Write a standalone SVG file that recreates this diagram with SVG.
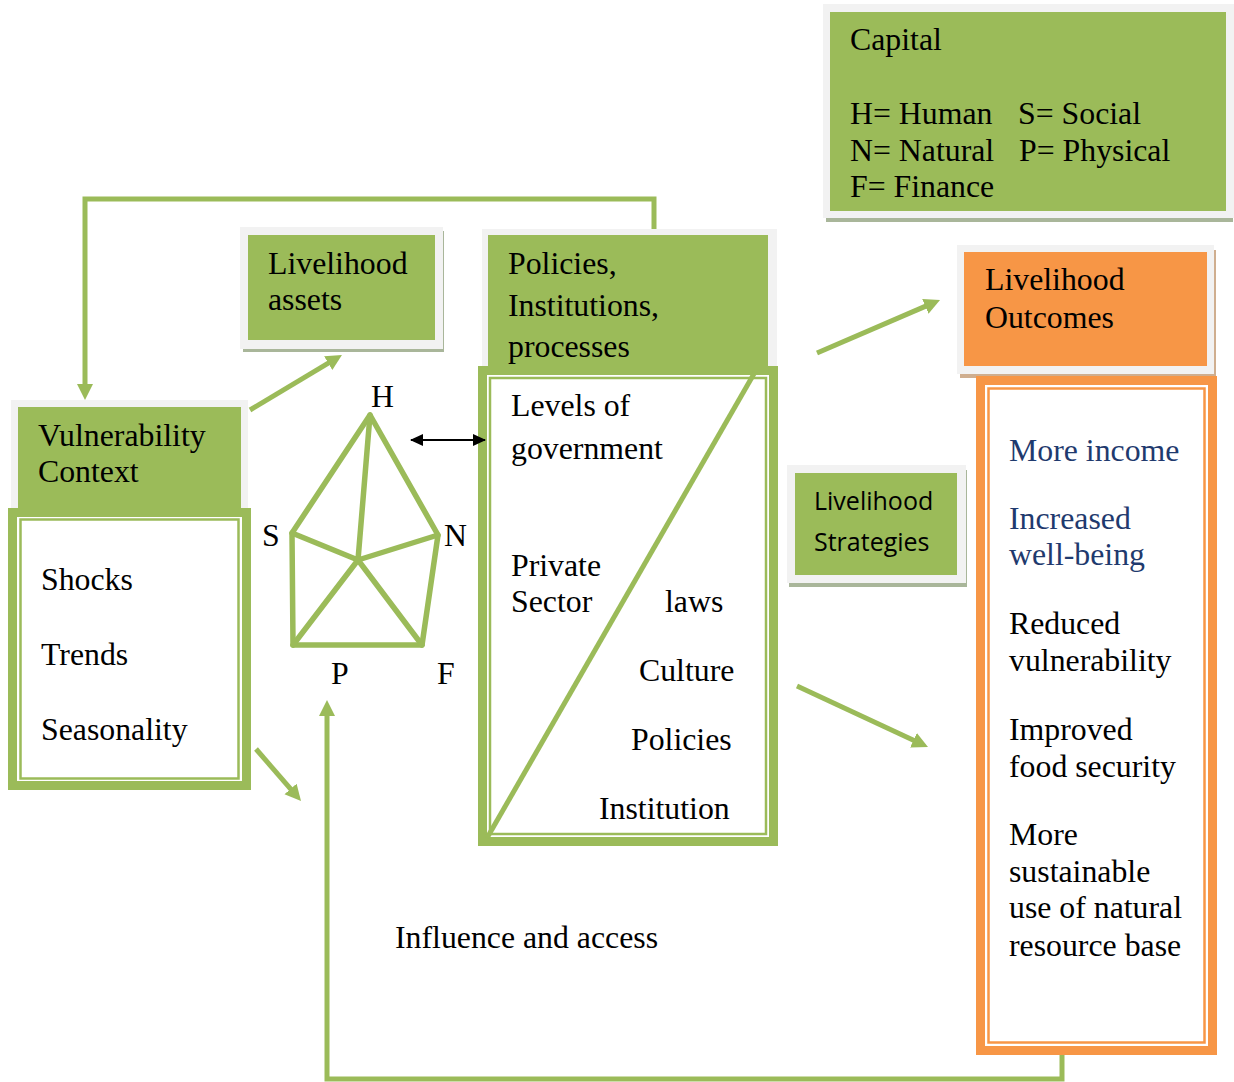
<svg xmlns="http://www.w3.org/2000/svg" width="1234" height="1082" viewBox="0 0 1234 1082">
  <defs>
    <style>
      .t { font-family: "Liberation Serif", "Times New Roman", serif; font-size: 31.8px; fill: #000; }
      .blue { fill: #1f3a6e; }
      .sans { font-family: "Open Sans", "Liberation Sans", sans-serif; font-size: 25px; fill: #000; }
      .frame { fill: #f2f2f2; }
      .green { fill: #9bbb59; }
      .orange { fill: #f79646; }
      .gshadow { fill: #a9b69a; }
      .oshadow { fill: #cfae8f; }
      .gband { fill: none; stroke: #9bbb59; stroke-width: 9; }
      .gthin { fill: none; stroke: #9bbb59; stroke-width: 2.5; }
      .oband { fill: none; stroke: #f79646; stroke-width: 9; }
      .othin { fill: none; stroke: #f79646; stroke-width: 2.5; }
      .link { fill: none; stroke: #9bbb59; stroke-width: 5; }
      .pent { fill: none; stroke: #9bbb59; stroke-width: 5.5; stroke-linecap: round; stroke-linejoin: round; }
    </style>
    <marker id="ga" markerUnits="userSpaceOnUse" markerWidth="18" markerHeight="18" refX="3" refY="8" orient="auto">
      <path d="M0,0 L16,8 L0,16 z" fill="#9bbb59"/>
    </marker>
    <marker id="ka" markerUnits="userSpaceOnUse" markerWidth="14" markerHeight="12" refX="12" refY="6" orient="auto-start-reverse">
      <path d="M0,0 L13,6 L0,12 z" fill="#000"/>
    </marker>
  </defs>

  <rect width="1234" height="1082" fill="#fff"/>

  <!-- capital legend -->
  <g id="capital">
    <rect class="gshadow" x="826" y="8" width="407" height="214"/>
    <rect class="frame" x="823" y="4" width="411" height="214"/>
    <rect class="green" x="830" y="12" width="396" height="199"/>
    <text class="t" x="850" y="50">Capital</text>
    <text class="t" x="850" y="124">H= Human</text>
    <text class="t" x="1018" y="124">S= Social</text>
    <text class="t" x="850" y="161">N= Natural</text>
    <text class="t" x="1019" y="161">P= Physical</text>
    <text class="t" x="850" y="197">F= Finance</text>
  </g>

  <!-- livelihood assets -->
  <g id="assets">
    <rect class="gshadow" x="243" y="231" width="201" height="121"/>
    <rect class="frame" x="240" y="227" width="203" height="122"/>
    <rect class="green" x="248" y="235" width="187" height="105"/>
    <text class="t" x="268" y="274">Livelihood</text>
    <text class="t" x="268" y="310">assets</text>
  </g>

  <!-- policies, institutions, processes -->
  <g id="policies">
    <rect class="frame" x="482" y="229" width="295" height="142"/>
    <rect class="green" x="488" y="235" width="280" height="136"/>
    <text class="t" x="508" y="274">Policies,</text>
    <text class="t" x="508" y="316">Institutions,</text>
    <text class="t" x="508" y="357">processes</text>
  </g>
  <g id="policies-body">
    <rect x="478" y="366" width="300" height="480" fill="#fff"/>
    <rect class="gband" x="482.5" y="370.5" width="291" height="471"/>
    <rect class="gthin" x="490" y="378" width="276" height="456"/>
    <line x1="755" y1="372" x2="487" y2="838" stroke="#9bbb59" stroke-width="5"/>
    <text class="t" x="511" y="416">Levels of</text>
    <text class="t" x="511" y="459">government</text>
    <text class="t" x="511" y="576">Private</text>
    <text class="t" x="511" y="612">Sector</text>
    <text class="t" x="665" y="612">laws</text>
    <text class="t" x="639" y="681">Culture</text>
    <text class="t" x="631" y="750">Policies</text>
    <text class="t" x="599" y="819">Institution</text>
  </g>

  <!-- vulnerability context -->
  <g id="vulnerability">
    <rect class="frame" x="11" y="400" width="237" height="112"/>
    <rect class="green" x="18" y="407" width="223" height="105"/>
    <text class="t" x="38" y="446">Vulnerability</text>
    <text class="t" x="38" y="482">Context</text>
  </g>
  <g id="vulnerability-body">
    <rect x="8" y="508" width="243" height="282" fill="#fff"/>
    <rect class="gband" x="12.5" y="512.5" width="234" height="273"/>
    <rect class="gthin" x="20.5" y="519.5" width="218" height="259"/>
    <text class="t" x="41" y="590">Shocks</text>
    <text class="t" x="41" y="665">Trends</text>
    <text class="t" x="41" y="740">Seasonality</text>
  </g>

  <!-- asset pentagon -->
  <g id="pentagon">
    <path class="pent" d="M370,415 L292,533 L293,645 L422,645 L438,535 Z"/>
    <path class="pent" d="M370,415 L358,560 M292,533 L358,560 L438,535 M293,645 L358,560 L422,645"/>
    <text class="t" x="371" y="407">H</text>
    <text class="t" x="262" y="546">S</text>
    <text class="t" x="444" y="546">N</text>
    <text class="t" x="331" y="684">P</text>
    <text class="t" x="437" y="684">F</text>
  </g>

  <!-- livelihood strategies -->
  <g id="strategies">
    <rect class="gshadow" x="789" y="470" width="178" height="117"/>
    <rect class="frame" x="787" y="465" width="179" height="118"/>
    <rect class="green" x="795" y="473" width="162" height="102"/>
    <text class="sans" x="814" y="510">Livelihood</text>
    <text class="sans" x="814" y="551">Strategies</text>
  </g>

  <!-- livelihood outcomes -->
  <g id="outcomes">
    <rect class="oshadow" x="960" y="250" width="256" height="128"/>
    <rect class="frame" x="957" y="245" width="257" height="129"/>
    <rect class="orange" x="964" y="252" width="243" height="114"/>
    <text class="t" x="985" y="290">Livelihood</text>
    <text class="t" x="985" y="328">Outcomes</text>
  </g>
  <g id="outcomes-body">
    <rect x="976" y="376" width="241" height="679" fill="#fff"/>
    <rect class="oband" x="980.5" y="380.5" width="232" height="670"/>
    <rect class="othin" x="988.5" y="388.5" width="216" height="654"/>
    <text class="t blue" x="1009" y="461">More income</text>
    <text class="t blue" x="1009" y="529">Increased</text>
    <text class="t blue" x="1009" y="565">well-being</text>
    <text class="t" x="1009" y="634">Reduced</text>
    <text class="t" x="1009" y="671">vulnerability</text>
    <text class="t" x="1009" y="740">Improved</text>
    <text class="t" x="1009" y="777">food security</text>
    <text class="t" x="1009" y="845">More</text>
    <text class="t" x="1009" y="882">sustainable</text>
    <text class="t" x="1009" y="918">use of natural</text>
    <text class="t" x="1009" y="956">resource base</text>
  </g>

  <text class="t" x="395" y="948">Influence and access</text>

  <!-- connectors -->
  <g id="connectors">
    <path class="link" d="M654,229 V199 H85 V387" marker-end="url(#ga)"/>
    <path class="link" d="M1062,1055 V1079 H327 V713" marker-end="url(#ga)"/>
    <line class="link" x1="250" y1="410" x2="330.8" y2="361.7" marker-end="url(#ga)"/>
    <line class="link" x1="817" y1="353" x2="928.1" y2="305.1" marker-end="url(#ga)"/>
    <line class="link" x1="797" y1="686" x2="916.2" y2="741.5" marker-end="url(#ga)"/>
    <line class="link" x1="256" y1="749" x2="292.5" y2="791.2" marker-end="url(#ga)"/>
    <line x1="411" y1="440" x2="485" y2="440" stroke="#000" stroke-width="2" marker-start="url(#ka)" marker-end="url(#ka)"/>
  </g>
</svg>
